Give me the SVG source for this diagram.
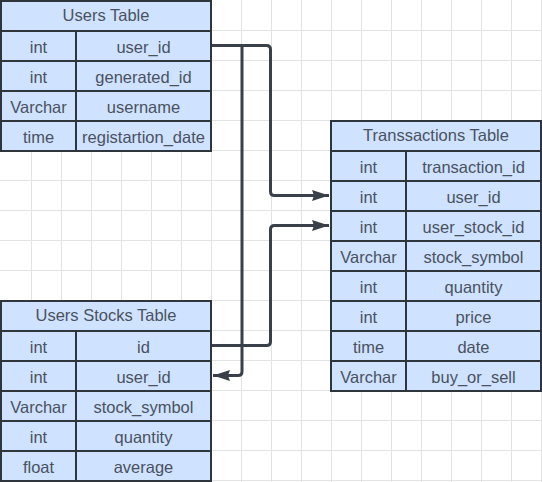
<svg xmlns="http://www.w3.org/2000/svg" width="542" height="482" viewBox="0 0 542 482">
<style>
.grid line{stroke:#e3e3e3;stroke-width:1}
.tbl rect{fill:#cfe2ff;stroke:#2f353d;stroke-width:2}
.tbl line{stroke:#2f353d;stroke-width:2}
.tbl text{font-family:"Liberation Sans",Arial,sans-serif;font-size:16.5px;fill:#4a5260;text-anchor:middle;dominant-baseline:central}
.conn path{fill:none;stroke:#3a4049;stroke-width:3;stroke-linejoin:round}
</style>
<defs>
<marker id="arr" markerUnits="userSpaceOnUse" markerWidth="18" markerHeight="14" refX="17" refY="6" orient="auto">
<path d="M0,0.5 L17,6 L0,11.5 L2,6 Z" fill="#3a4049"/>
</marker>
</defs>
<rect width="542" height="482" fill="#ffffff"/>
<g class="grid">
<line x1="31.5" y1="0" x2="31.5" y2="482"/><line x1="61.5" y1="0" x2="61.5" y2="482"/><line x1="91.5" y1="0" x2="91.5" y2="482"/><line x1="121.5" y1="0" x2="121.5" y2="482"/><line x1="151.5" y1="0" x2="151.5" y2="482"/><line x1="181.5" y1="0" x2="181.5" y2="482"/><line x1="211.5" y1="0" x2="211.5" y2="482"/><line x1="241.5" y1="0" x2="241.5" y2="482"/><line x1="271.5" y1="0" x2="271.5" y2="482"/><line x1="301.5" y1="0" x2="301.5" y2="482"/><line x1="331.5" y1="0" x2="331.5" y2="482"/><line x1="361.5" y1="0" x2="361.5" y2="482"/><line x1="391.5" y1="0" x2="391.5" y2="482"/><line x1="421.5" y1="0" x2="421.5" y2="482"/><line x1="451.5" y1="0" x2="451.5" y2="482"/><line x1="481.5" y1="0" x2="481.5" y2="482"/><line x1="511.5" y1="0" x2="511.5" y2="482"/><line x1="541.5" y1="0" x2="541.5" y2="482"/>
<line x1="0" y1="30.5" x2="542" y2="30.5"/><line x1="0" y1="60.5" x2="542" y2="60.5"/><line x1="0" y1="90.5" x2="542" y2="90.5"/><line x1="0" y1="120.5" x2="542" y2="120.5"/><line x1="0" y1="150.5" x2="542" y2="150.5"/><line x1="0" y1="180.5" x2="542" y2="180.5"/><line x1="0" y1="210.5" x2="542" y2="210.5"/><line x1="0" y1="240.5" x2="542" y2="240.5"/><line x1="0" y1="270.5" x2="542" y2="270.5"/><line x1="0" y1="300.5" x2="542" y2="300.5"/><line x1="0" y1="330.5" x2="542" y2="330.5"/><line x1="0" y1="360.5" x2="542" y2="360.5"/><line x1="0" y1="390.5" x2="542" y2="390.5"/><line x1="0" y1="420.5" x2="542" y2="420.5"/><line x1="0" y1="450.5" x2="542" y2="450.5"/><line x1="0" y1="480.5" x2="542" y2="480.5"/>
</g>
<g id="users" class="tbl">
<rect x="1" y="1" width="210" height="150"/>
<line x1="1" y1="31" x2="211" y2="31"/><line x1="1" y1="61" x2="211" y2="61"/><line x1="1" y1="91" x2="211" y2="91"/><line x1="1" y1="121" x2="211" y2="121"/>
<line x1="76" y1="31" x2="76" y2="151"/>
<text x="106" y="14.5">Users Table</text>
<text x="38.5" y="47">int</text><text x="143.5" y="47">user_id</text>
<text x="38.5" y="77">int</text><text x="143.5" y="77">generated_id</text>
<text x="38.5" y="107">Varchar</text><text x="143.5" y="107">username</text>
<text x="38.5" y="137">time</text><text x="143.5" y="137">registartion_date</text>
</g>
<g id="transactions" class="tbl">
<rect x="331" y="121" width="210" height="270"/>
<line x1="331" y1="151" x2="541" y2="151"/><line x1="331" y1="181" x2="541" y2="181"/><line x1="331" y1="211" x2="541" y2="211"/><line x1="331" y1="241" x2="541" y2="241"/><line x1="331" y1="271" x2="541" y2="271"/><line x1="331" y1="301" x2="541" y2="301"/><line x1="331" y1="331" x2="541" y2="331"/><line x1="331" y1="361" x2="541" y2="361"/>
<line x1="406" y1="151" x2="406" y2="391"/>
<text x="436" y="134.5">Transsactions Table</text>
<text x="368.5" y="167">int</text><text x="473.5" y="167">transaction_id</text>
<text x="368.5" y="197">int</text><text x="473.5" y="197">user_id</text>
<text x="368.5" y="227">int</text><text x="473.5" y="227">user_stock_id</text>
<text x="368.5" y="257">Varchar</text><text x="473.5" y="257">stock_symbol</text>
<text x="368.5" y="287">int</text><text x="473.5" y="287">quantity</text>
<text x="368.5" y="317">int</text><text x="473.5" y="317">price</text>
<text x="368.5" y="347">time</text><text x="473.5" y="347">date</text>
<text x="368.5" y="377">Varchar</text><text x="473.5" y="377">buy_or_sell</text>
</g>
<g id="stocks" class="tbl">
<rect x="1" y="301" width="210" height="180"/>
<line x1="1" y1="331" x2="211" y2="331"/><line x1="1" y1="361" x2="211" y2="361"/><line x1="1" y1="391" x2="211" y2="391"/><line x1="1" y1="421" x2="211" y2="421"/><line x1="1" y1="451" x2="211" y2="451"/>
<line x1="76" y1="331" x2="76" y2="481"/>
<text x="106" y="314.5">Users Stocks Table</text>
<text x="38.5" y="347">int</text><text x="143.5" y="347">id</text>
<text x="38.5" y="377">int</text><text x="143.5" y="377">user_id</text>
<text x="38.5" y="407">Varchar</text><text x="143.5" y="407">stock_symbol</text>
<text x="38.5" y="437">int</text><text x="143.5" y="437">quantity</text>
<text x="38.5" y="467">float</text><text x="143.5" y="467">average</text>
</g>
<g id="connectors" class="conn">
<path d="M212,45.5 H266.5 Q270.5,45.5 270.5,49.5 V191.5 Q270.5,195.5 274.5,195.5 H329" marker-end="url(#arr)"/>
<path d="M212,45.5 H242 V371.5 Q242,375.5 238,375.5 H213" marker-end="url(#arr)"/>
<path d="M212,345.5 H266.5 Q270.5,345.5 270.5,341.5 V229.5 Q270.5,225.5 274.5,225.5 H329" marker-end="url(#arr)"/>
</g>
</svg>
